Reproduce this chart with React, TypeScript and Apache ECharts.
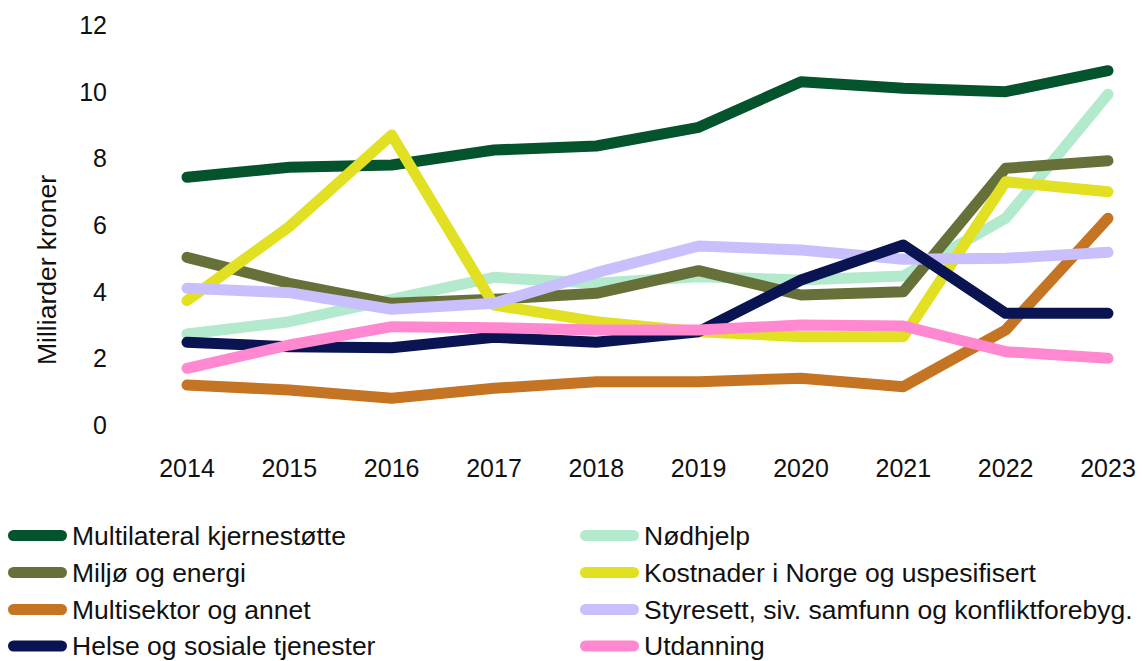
import React, { useEffect, useRef } from "react";
import * as echarts from "echarts";

const years = ["2014", "2015", "2016", "2017", "2018", "2019", "2020", "2021", "2022", "2023"];

const multilateral = [7.43, 7.73, 7.8, 8.25, 8.37, 8.93, 10.3, 10.1, 10.0, 10.63];
const nodhjelp = [2.73, 3.1, 3.77, 4.43, 4.25, 4.45, 4.35, 4.47, 6.2, 9.92];
const miljo = [5.03, 4.25, 3.65, 3.77, 3.95, 4.63, 3.9, 4.0, 7.7, 7.93];
const kostnader = [3.73, 5.95, 8.7, 3.6, 3.1, 2.8, 2.65, 2.65, 7.3, 7.0];
const multisektor = [1.2, 1.05, 0.8, 1.1, 1.3, 1.3, 1.4, 1.15, 2.85, 6.2];
const styresett = [4.1, 3.97, 3.47, 3.65, 4.57, 5.37, 5.25, 4.97, 5.0, 5.18];
const helse = [2.48, 2.35, 2.32, 2.63, 2.48, 2.8, 4.35, 5.4, 3.35, 3.35];
const utdanning = [1.7, 2.4, 2.95, 2.92, 2.85, 2.85, 3.0, 2.97, 2.2, 2.0];

const seriesDefs = [
  { name: "Multilateral kjernestøtte", data: multilateral, color: "#03532d" },
  { name: "Nødhjelp", data: nodhjelp, color: "#b3e9cc" },
  { name: "Miljø og energi", data: miljo, color: "#667039" },
  { name: "Kostnader i Norge og uspesifisert", data: kostnader, color: "#e2e022" },
  { name: "Multisektor og annet", data: multisektor, color: "#c47422" },
  { name: "Styresett, siv. samfunn og konfliktforebyg.", data: styresett, color: "#c9bffc" },
  { name: "Helse og sosiale tjenester", data: helse, color: "#0b1452" },
  { name: "Utdanning", data: utdanning, color: "#ff88d0" },
];

const leftLegend = ["Multilateral kjernestøtte", "Miljø og energi", "Multisektor og annet", "Helse og sosiale tjenester"];
const rightLegend = ["Nødhjelp", "Kostnader i Norge og uspesifisert", "Styresett, siv. samfunn og konfliktforebyg.", "Utdanning"];
const legendRowCenters = [535.5, 572.5, 609.5, 646];

const FONT = "'Liberation Sans', Arial, sans-serif";
const ICON = "path://M5.5,0 L53.5,0 A5.5,5.5 0 0 1 53.5,11 L5.5,11 A5.5,5.5 0 0 1 5.5,0 Z";

export default function App() {
  const ref = useRef<HTMLDivElement>(null);
  useEffect(() => {
    if (!ref.current) return;
    const chart = echarts.init(ref.current, undefined, { renderer: "svg" });
    const legendItem = (name: string, left: number, center: number) => ({
      orient: "vertical" as const,
      left,
      top: center - 14,
      padding: 0,
      itemWidth: 59,
      itemHeight: 11,
      icon: ICON,
      data: [name],
      textStyle: { fontFamily: FONT, fontSize: 26.5, color: "#111", lineHeight: 28 },
    });
    const legends = [
      ...leftLegend.map((n, i) => legendItem(n, 8, legendRowCenters[i])),
      ...rightLegend.map((n, i) => legendItem(n, 580, legendRowCenters[i])),
    ];
    chart.setOption({
      animation: false,
      backgroundColor: "#ffffff",
      grid: { left: 187, right: 34, top: 25, bottom: 236 },
      legend: legends,
      graphic: [
        {
          type: "text",
          x: 47,
          y: 270,
          rotation: Math.PI / 2,
          style: {
            text: "Milliarder kroner",
            fontFamily: FONT,
            fontSize: 26.5,
            fill: "#111",
            textAlign: "center",
            textVerticalAlign: "middle",
          },
        },
      ],
      xAxis: {
        type: "category",
        data: years,
        boundaryGap: false,
        axisLine: { show: false },
        axisTick: { show: false },
        axisLabel: { fontFamily: FONT, fontSize: 25, color: "#111", margin: 30 },
      },
      yAxis: {
        type: "value",
        min: 0,
        max: 12,
        interval: 2,
        splitLine: { show: false },
        axisLine: { show: false },
        axisTick: { show: false },
        axisLabel: { fontFamily: FONT, fontSize: 25, color: "#111", margin: 80 },
      },
      series: seriesDefs.map((s) => ({
        name: s.name,
        type: "line",
        data: s.data,
        showSymbol: false,
        symbol: "none",
        color: s.color,
        lineStyle: { width: 11, color: s.color, cap: "round", join: "round" },
      })),
    });
    return () => chart.dispose();
  }, []);
  return <div ref={ref} style={{ width: 1142, height: 661, position: "absolute", left: 0, top: 0 }} />;
}
